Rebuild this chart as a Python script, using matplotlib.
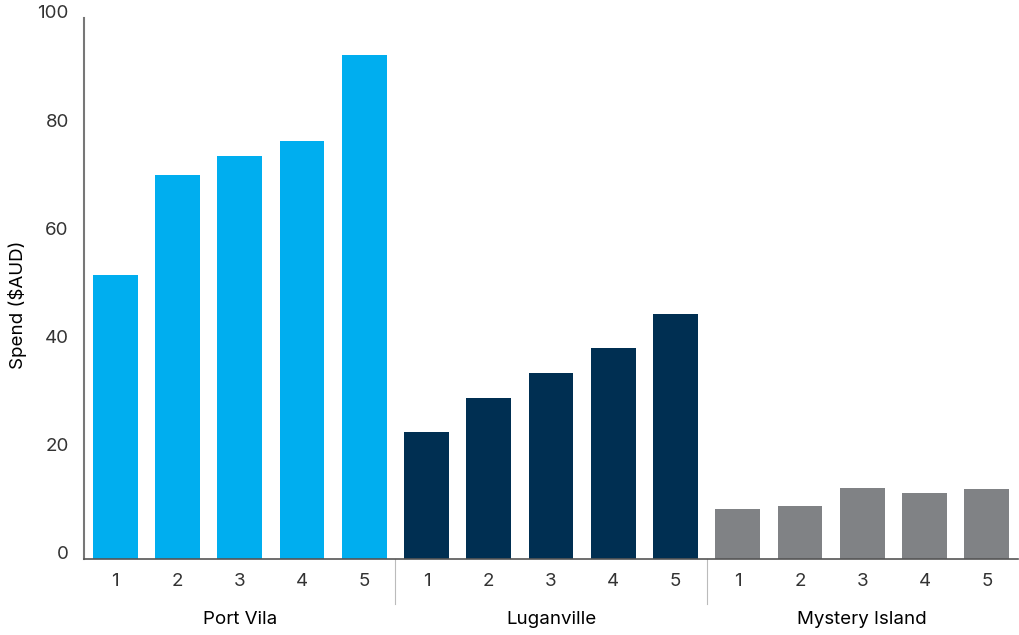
import matplotlib.pyplot as plt
import matplotlib.transforms as mtransforms

plt.rcParams['font.family'] = ['Inter', 'DejaVu Sans']

groups = ["Port Vila", "Luganville", "Mystery Island"]
quintiles = ["1", "2", "3", "4", "5"]
port_vila = [52.5, 71.0, 74.5, 77.3, 93.2]
luganville = [23.5, 29.8, 34.4, 39.0, 45.3]
mystery_island = [9.2, 9.8, 13.1, 12.2, 12.9]
colors = ["#00AEEF", "#002F52", "#808285"]

fig = plt.figure(figsize=(10.2, 6.35), dpi=100)
ax = fig.add_axes([0.0824, 0.1197, 0.9156, 0.852])

series = [port_vila, luganville, mystery_island]
pos = 0
xticks = []
xlabels = []
centers = []
for g, vals in enumerate(series):
    xs = list(range(pos, pos + len(vals)))
    ax.bar(xs, vals, width=0.72, color=colors[g])
    xticks += xs
    xlabels += quintiles
    centers.append(sum(xs) / len(xs))
    pos += len(vals)

ax.set_xlim(-0.5, pos - 0.5)
ax.set_ylim(0, 100)
ax.set_yticks([0, 20, 40, 60, 80, 100])
ax.set_xticks(xticks)
ax.set_xticklabels(xlabels)
ax.tick_params(axis='both', length=0, labelsize=13.5, labelcolor='#333333')
ax.tick_params(axis='y', pad=11)
ax.tick_params(axis='x', pad=10)
# y labels sit a little above their values
shift = mtransforms.ScaledTranslation(0, 6 / 100, fig.dpi_scale_trans)
for lbl in ax.get_yticklabels():
    lbl.set_transform(lbl.get_transform() + shift)

for s in ['top', 'right']:
    ax.spines[s].set_visible(False)
ax.spines['left'].set_color('#777777')
ax.spines['left'].set_linewidth(1.5)
ax.spines['bottom'].set_color('#555555')
ax.spines['bottom'].set_linewidth(1.2)

ax.set_ylabel("Spend ($AUD)", fontsize=13.5, color='black')
ax.yaxis.set_label_coords(-0.061, 0.47)

trans = mtransforms.blended_transform_factory(ax.transData, ax.transAxes)
for i in range(1, len(series)):
    x = i * 5 - 0.5
    ax.plot([x, x], [0, -0.083], transform=trans, color='#BBBBBB', lw=0.8, clip_on=False)
for c, name in zip(centers, groups):
    ax.text(c, -0.112, name, transform=trans, ha='center', va='center', fontsize=13.5, color='black')

fig.savefig("out.png", dpi=100)
